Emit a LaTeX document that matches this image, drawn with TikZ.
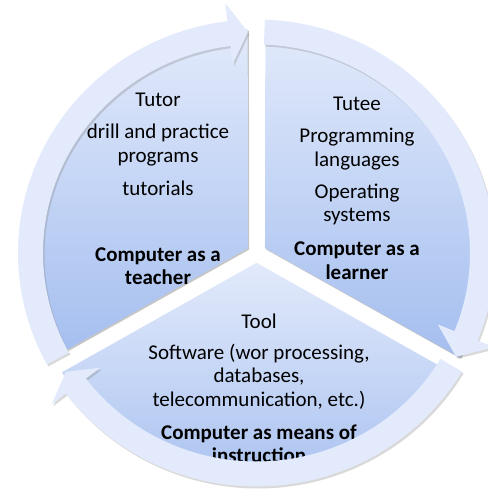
\documentclass[tikz,border=0pt]{standalone}
\usepackage{fontspec}
\setmainfont{Carlito}
\usetikzlibrary{shadows}
\definecolor{segtop}{RGB}{226,234,251}
\definecolor{segbot}{RGB}{164,190,239}
\definecolor{ringfill}{RGB}{226,234,252}
\tikzstyle{slice} = [top color=segtop, bottom color=segbot, drop shadow={shadow xshift=1.2pt, shadow yshift=-1.5pt, opacity=0.45}]
\tikzstyle{ring} = [fill=ringfill, drop shadow={shadow xshift=1.5pt, shadow yshift=-2pt, opacity=0.3}]
\tikzstyle{txt} = [align=center, inner sep=0pt, font=\fontsize{21}{23.5}\selectfont]
\tikzstyle{title} = [txt, font=\bfseries\fontsize{21}{23.5}\selectfont]

\begin{document}
\begin{tikzpicture}[x=1pt, y=1pt]
        \useasboundingbox (0,0) rectangle (488,491);
        \coordinate (c) at (256.5,238);

        % three slices
        \begin{scope}[shift={(c)}]
        \path [slice] (150:9.8) -- (92.2:230 and 224) arc [start angle=92.2, end angle=207.8, x radius=230, y radius=224] -- cycle;
        \path [slice] (30:9.8) -- (-27.8:230 and 224) arc [start angle=-27.8, end angle=87.8, x radius=230, y radius=224] -- cycle;
        \path [slice] (270:9.8) -- (212.2:230 and 224) arc [start angle=212.2, end angle=327.8, x radius=230, y radius=224] -- cycle;
        \end{scope}

        \node [txt] (tutor) at (158,391) {Tutor};
        \node [txt, below of=tutor, node distance=45pt] (drill) {drill and practice\\programs};
        \node [txt, below of=drill, node distance=43pt] (tutorials) {tutorials};
        \node [title, below of=tutorials, node distance=78pt] (teacher) {Computer as a\\teacher};

        \node [txt] (tutee) at (357,387) {Tutee};
        \node [txt, below of=tutee, node distance=45pt] (languages) {Programming\\languages};
        \node [txt, below of=languages, node distance=55.5pt] (systems) {Operating\\systems};
        \node [title, below of=systems, node distance=56pt] (learner) {Computer as a\\learner};

        \node [txt] (tool) at (259,170) {Tool};
        \node [txt, below of=tool, node distance=55.5pt] (software) {Software (wor processing,\\databases,\\telecommunication, etc.)};
        \node [title, below of=software, node distance=67.5pt] (means) {Computer as means of\\instruction};

        % circular arrows
        \begin{scope}[shift={(c)}]
        \path [ring] (208.5:213.5 and 208.5) arc [start angle=208.5, end angle=97, x radius=213.5, y radius=208.5]
            -- (97:195.5 and 190.5) -- (92.2:226 and 221) -- (97:256.5 and 251.5) -- (97:238.5 and 233.5)
            arc [start angle=97, end angle=208.5, x radius=238.5, y radius=233.5] -- cycle;
        \path [ring] (88:213.5 and 208.5) arc [start angle=88, end angle=-22, x radius=213.5, y radius=208.5]
            -- (-22:195.5 and 190.5) -- (-28:226 and 221) -- (-22:256.5 and 251.5) -- (-22:238.5 and 233.5)
            arc [start angle=-22, end angle=88, x radius=238.5, y radius=233.5] -- cycle;
        \path [ring] (329.5:213.5 and 208.5) arc [start angle=329.5, end angle=217, x radius=213.5, y radius=208.5]
            -- (217:195.5 and 190.5) -- (212.5:226 and 221) -- (217:256.5 and 251.5) -- (217:238.5 and 233.5)
            arc [start angle=217, end angle=329.5, x radius=238.5, y radius=233.5] -- cycle;
        \end{scope}
\end{tikzpicture}
\end{document}
